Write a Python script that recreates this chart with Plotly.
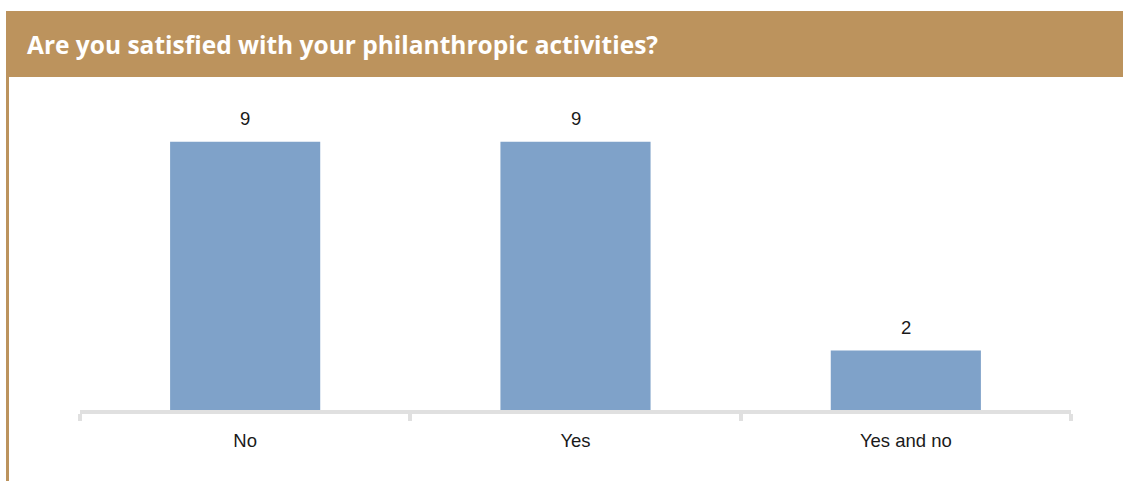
import plotly.graph_objects as go

categories = ["No", "Yes", "Yes and no"]
counts = [9, 9, 2]
title_text = "Are you satisfied with your philanthropic activities?"

W, H = 1123, 481
ML, MR, MT, MB = 80, 52, 112, 71
PW, PH = W - ML - MR, H - MT - MB

def px_x(px):
    return (px - ML) / PW

def px_y(py):
    return (H - MB - py) / PH

gold = "#BC935D"
label_font = dict(family="Liberation Sans, Arial, sans-serif", size=18.5, color="#1a1a1a")

fig = go.Figure(go.Bar(
    x=categories,
    y=counts,
    marker=dict(color="#7FA2C9", line=dict(width=0)),
    width=0.4545,
    hoverinfo="skip",
))

# value labels above each bar
value_labels = [
    dict(x=c, y=v, xref="x", yref="y", text=str(v), showarrow=False,
         yanchor="middle", yshift=23, font=label_font)
    for c, v in zip(categories, counts)
]

fig.update_layout(
    width=W, height=H,
    margin=dict(l=ML, r=MR, t=MT, b=MB, pad=0),
    paper_bgcolor="white",
    plot_bgcolor="white",
    showlegend=False,
    xaxis=dict(
        showline=True, linecolor="#E0E0E0", linewidth=4,
        ticks="outside", tickson="boundaries", ticklen=7, tickwidth=4,
        tickcolor="#E0E0E0",
        ticklabelstandoff=11,
        tickfont=label_font,
        showgrid=False, zeroline=False, fixedrange=True,
    ),
    yaxis=dict(range=[0, 10], visible=False, fixedrange=True),
    shapes=[
        # header band
        dict(type="rect", xref="paper", yref="paper",
             x0=px_x(6), x1=px_x(1123), y0=px_y(77), y1=px_y(11),
             fillcolor=gold, line=dict(width=0), layer="below"),
        # left rule
        dict(type="rect", xref="paper", yref="paper",
             x0=px_x(6), x1=px_x(9), y0=px_y(481), y1=px_y(11),
             fillcolor=gold, line=dict(width=0), layer="below"),
    ],
    annotations=[
        dict(text="<b>" + title_text + "</b>", xref="paper", yref="paper",
             x=px_x(25), y=px_y(45), xanchor="left", yanchor="middle",
             showarrow=False,
             font=dict(family="Open Sans, Liberation Sans, sans-serif", size=24.5, color="white")),
    ] + value_labels,
)

fig.write_html("out.html", config={"displayModeBar": False})
